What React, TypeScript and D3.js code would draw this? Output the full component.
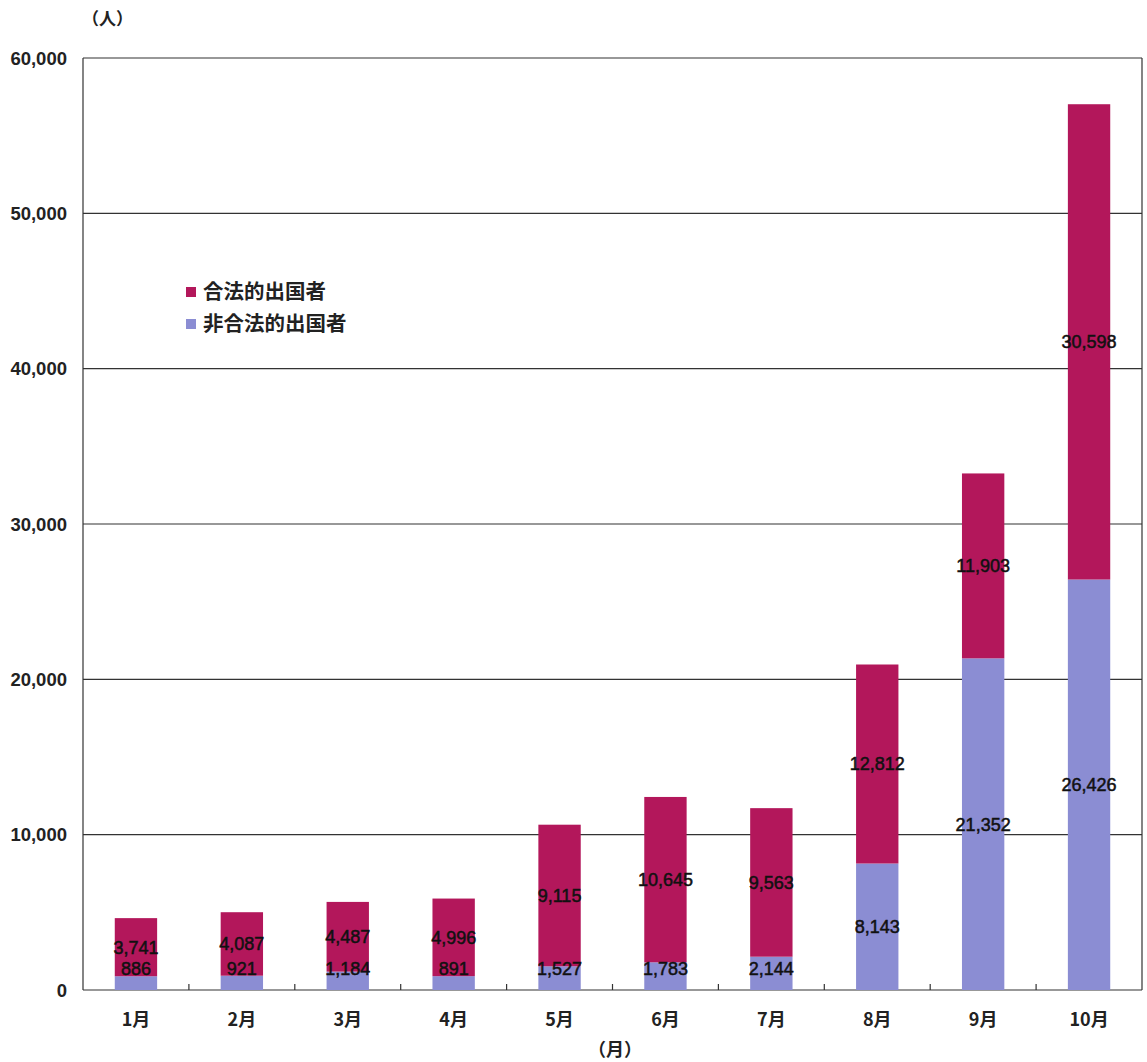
import React from "react";
import * as d3 from "d3";

const months = ["1月", "2月", "3月", "4月", "5月", "6月", "7月", "8月", "9月", "10月"];
const illegal = [886, 921, 1184, 891, 1527, 1783, 2144, 8143, 21352, 26426];
const legal = [3741, 4087, 4487, 4996, 9115, 10645, 9563, 12812, 11903, 30598];
const yTicks = [0, 10000, 20000, 30000, 40000, 50000, 60000];
const seriesNames = ["合法的出国者", "非合法的出国者"];

const W = 1147;
const H = 1062;
const left = 83;
const right = 1142;
const top = 58;
const bottom = 990;

const LEGAL_COLOR = "#B3175B";
const ILLEGAL_COLOR = "#8B8DD3";

export default function App() {
  const x = d3.scaleBand<string>().domain(months).range([left, right]).paddingInner(0.6).paddingOuter(0.3);
  const xStep = d3.scaleBand<string>().domain(months).range([left, right]);
  const y = d3.scaleLinear().domain([0, 60000]).range([bottom, top]);
  const fmt = d3.format(",");
  const labelFont = "'Liberation Sans', Arial, sans-serif";
  const cjkFont = "'Noto Sans CJK JP', 'Noto Sans CJK SC', sans-serif";
  const labelMaxY = bottom - 21;

  return (
    <div style={{ position: "absolute", left: 0, top: 0 }}>
      <svg width={W} height={H} style={{ display: "block", background: "#fff" }}>
        {/* gridlines */}
        {yTicks.map((t) => (
          <line key={t} x1={left} x2={right} y1={y(t)} y2={y(t)} stroke="#333" strokeWidth={1.2} />
        ))}
        {/* frame */}
        <line x1={left} x2={left} y1={top} y2={bottom} stroke="#333" strokeWidth={1.2} />
        <line x1={right} x2={right} y1={top} y2={bottom} stroke="#333" strokeWidth={1.2} />

        {/* y tick labels */}
        {yTicks.map((t) => (
          <text key={t} x={67} y={y(t)} dy="0.36em" textAnchor="end" fontFamily={labelFont} fontWeight="bold" fontSize={18.5} fill="#222">
            {fmt(t)}
          </text>
        ))}
        <text x={82} y={25} fontFamily={cjkFont} fontWeight="bold" fontSize={17} fill="#222">（人）</text>

        {/* bars */}
        {months.map((m, i) => {
          const x0 = x(m)!;
          const bw = x.bandwidth();
          const yIll = y(illegal[i]);
          const yTot = y(illegal[i] + legal[i]);
          const cx = x0 + bw / 2;
          const illLabelY = Math.min((y(0) + yIll) / 2, labelMaxY);
          const legLabelY = (yIll + yTot) / 2;
          return (
            <g key={m}>
              <rect x={x0} y={yIll} width={bw} height={y(0) - yIll} fill={ILLEGAL_COLOR} />
              <rect x={x0} y={yTot} width={bw} height={yIll - yTot} fill={LEGAL_COLOR} />
              <text x={cx} y={legLabelY} dy="0.36em" textAnchor="middle" fontFamily={labelFont} fontSize={18} fill="#111" stroke="#111" strokeWidth={0.5}>
                {fmt(legal[i])}
              </text>
              <text x={cx} y={illLabelY} dy="0.36em" textAnchor="middle" fontFamily={labelFont} fontSize={18} fill="#111" stroke="#111" strokeWidth={0.5}>
                {fmt(illegal[i])}
              </text>
            </g>
          );
        })}

        {/* x axis ticks between categories */}
        {months.slice(1).map((m) => (
          <line key={m} x1={xStep(m)!} x2={xStep(m)!} y1={bottom} y2={bottom - 6} stroke="#333" strokeWidth={1.2} />
        ))}
        {months.map((m) => (
          <text key={m} x={x(m)! + x.bandwidth() / 2} y={1026} textAnchor="middle" fontFamily={cjkFont} fontWeight="bold" fontSize={18} fill="#222">
            {m}
          </text>
        ))}
        <text x={588} y={1056} fontFamily={cjkFont} fontWeight="bold" fontSize={18} fill="#222">（月）</text>

        {/* legend */}
        {seriesNames.map((s, i) => (
          <g key={s} transform={`translate(186, ${292 + i * 32})`}>
            <rect x={0} y={-5} width={10} height={10} fill={i === 0 ? LEGAL_COLOR : ILLEGAL_COLOR} />
            <text x={17} y={0} dy="0.36em" fontFamily={cjkFont} fontWeight="bold" fontSize={20.5} fill="#222">
              {s}
            </text>
          </g>
        ))}
      </svg>
    </div>
  );
}
